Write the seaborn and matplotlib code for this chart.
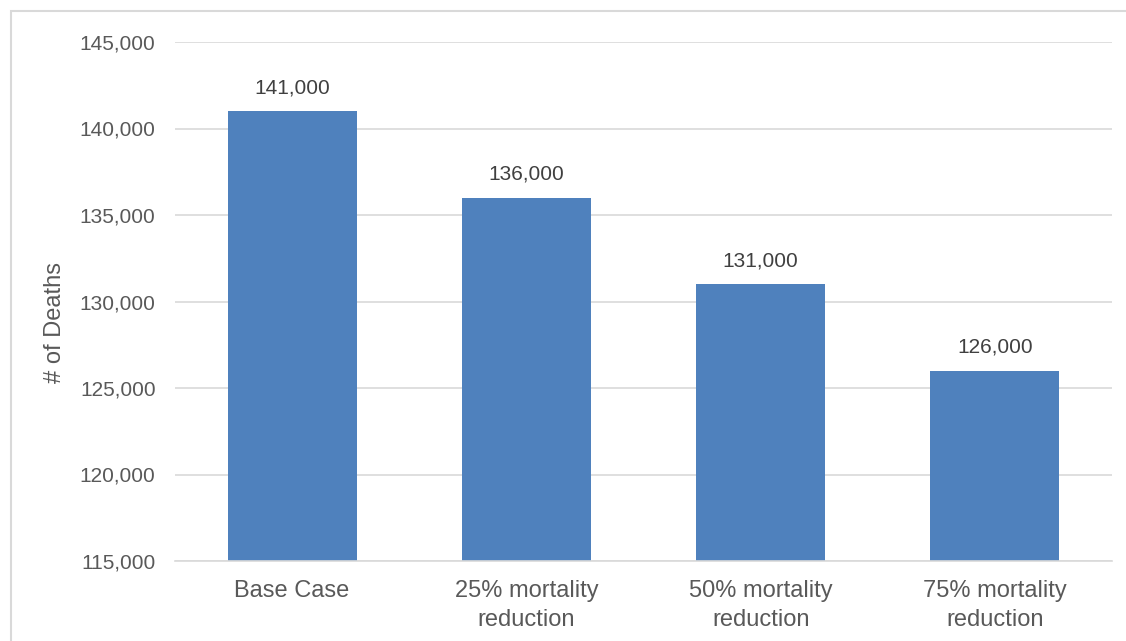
import matplotlib
matplotlib.use("Agg")
import matplotlib.pyplot as plt
import matplotlib.ticker as mticker
from matplotlib.patches import Rectangle
import seaborn as sns
import pandas as pd

# Scenario results: total deaths under each mortality-reduction assumption
scenarios = ["Base Case", "25% mortality\nreduction", "50% mortality\nreduction", "75% mortality\nreduction"]
deaths = [141000, 136000, 131000, 126000]
y_ticks = [115000, 120000, 125000, 130000, 135000, 140000, 145000]

df = pd.DataFrame({"scenario": scenarios, "deaths": deaths})

sns.set_theme(style="white")
plt.rcParams["font.family"] = ["Liberation Sans", "DejaVu Sans"]

text_color = "#595959"
grid_color = "#D9D9D9"
bar_color = "#4F81BD"

fig = plt.figure(figsize=(11.26, 6.41), dpi=100)
ax = fig.add_axes([175 / 1126, 1 - 561 / 641, (1112 - 175) / 1126, (561 - 42) / 641])

sns.barplot(data=df, x="scenario", y="deaths", color=bar_color, width=0.55,
            saturation=1, linewidth=0, ax=ax, zorder=3)

ax.set_ylim(y_ticks[0], y_ticks[-1])
ax.set_yticks(y_ticks)
ax.yaxis.set_major_formatter(mticker.FuncFormatter(lambda v, p: f"{int(v):,}"))
ax.grid(axis="y", color=grid_color, linewidth=1.2, zorder=0)
ax.grid(axis="x", visible=False)

for side in ["top", "right", "left"]:
    ax.spines[side].set_visible(False)
ax.spines["bottom"].set_color(grid_color)
ax.spines["bottom"].set_linewidth(1.2)
ax.spines["bottom"].set_zorder(4)

ax.tick_params(axis="y", length=0, pad=14, labelsize=15, labelcolor=text_color)
ax.tick_params(axis="x", length=0, pad=14, labelsize=17, labelcolor=text_color)
for lbl in ax.get_xticklabels():
    lbl.set_linespacing(1.4)

ax.set_xlabel("")
ax.set_ylabel("# of Deaths", fontsize=17, color=text_color)
ax.yaxis.set_label_coords(-0.116, 0.46)

for container in ax.containers:
    ax.bar_label(container, labels=[f"{v:,}" for v in deaths], padding=10,
                 fontsize=15, color="#404040")

# Light chart-area border
fig.patches.append(Rectangle((11 / 1126, -0.05), 1.2, 1 - 11 / 641 + 0.05,
                             transform=fig.transFigure, fill=False,
                             edgecolor="#D9D9D9", linewidth=1.5))

fig.savefig("out.png", dpi=100)
